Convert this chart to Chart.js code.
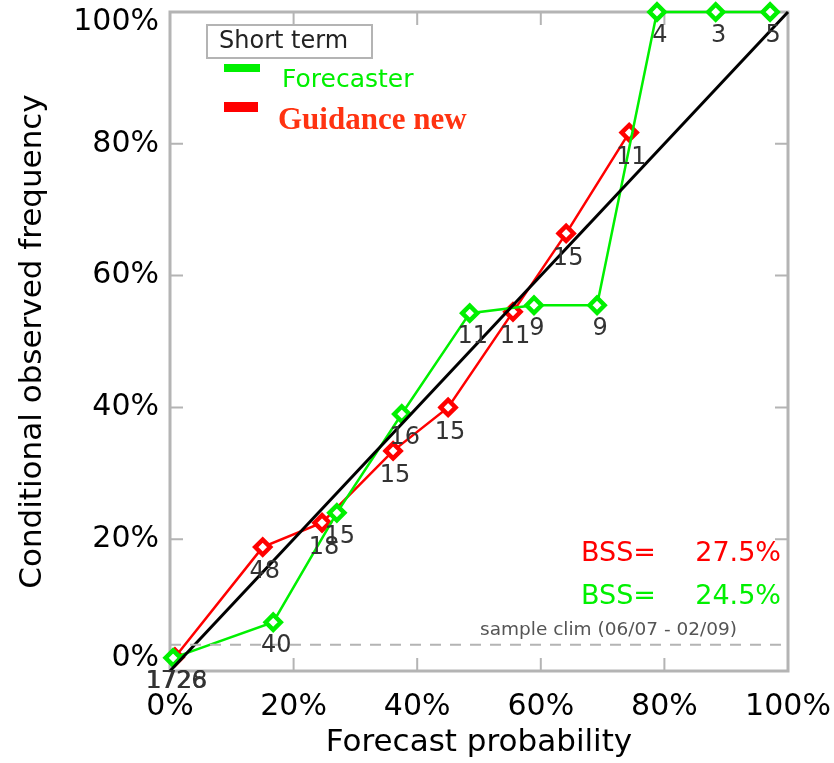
<!DOCTYPE html>
<html>
<head>
<meta charset="utf-8">
<script src="https://cdn.jsdelivr.net/npm/chart.js@4.4.0/dist/chart.umd.min.js"></script>
<style>
  html, body { margin: 0; padding: 0; background: #fff; }
  #wrap { width: 834px; height: 763px; }
</style>
</head>
<body>
<div id="wrap"><canvas id="chart"></canvas></div>
<script>
// Reliability diagram, short term
const tickValues = [0, 20, 40, 60, 80, 100];

// Forecaster (green)
const fcstProb = [0.5, 16.7, 27.0, 37.5, 48.5, 58.9, 69.1, 78.8, 88.3, 97.1];
const fcstObs = [2.0, 7.4, 24.0, 39.0, 54.3, 55.5, 55.5, 100, 100, 100];
const fcstCount = [1726, 40, 15, 16, 11, 9, 9, 4, 3, 5];

// Guidance new (red)
const guidProb = [0.8, 15.0, 24.6, 36.1, 45.0, 55.5, 64.1, 74.3];
const guidObs = [2.1, 18.8, 22.5, 33.4, 40.0, 54.5, 66.4, 81.7];
const guidCount = [1728, 48, 18, 15, 15, 11, 15, 11];

const sampleClim = 4;
const bssGuidance = "27.5%";
const bssForecaster = "24.5%";

const GREEN = '#00f000';
const RED = '#ff0000';
const FRAME = '#b4b4b4';
const FONT = '"DejaVu Sans", sans-serif';

function toPoints(xs, ys) {
  return xs.map((x, i) => ({ x: x, y: ys[i] }));
}

// gray box round the plot with short ticks pointing inwards
const framePlugin = {
  id: 'frame',
  beforeDatasetsDraw(chart) {
    const { ctx, chartArea: a, scales } = chart;
    ctx.save();
    ctx.strokeStyle = FRAME;
    ctx.lineWidth = 3;
    ctx.strokeRect(a.left, a.top, a.right - a.left, a.bottom - a.top);
    ctx.lineWidth = 2;
    tickValues.slice(1, -1).forEach(v => {
      const px = scales.x.getPixelForValue(v);
      const py = scales.y.getPixelForValue(v);
      ctx.beginPath();
      ctx.moveTo(px, a.bottom); ctx.lineTo(px, a.bottom - 13);
      ctx.moveTo(px, a.top); ctx.lineTo(px, a.top + 13);
      ctx.moveTo(a.left, py); ctx.lineTo(a.left + 13, py);
      ctx.moveTo(a.right, py); ctx.lineTo(a.right - 13, py);
      ctx.stroke();
    });
    ctx.restore();
  }
};

// counts under each point, legend box and skill scores
const notesPlugin = {
  id: 'notes',
  afterDraw(chart) {
    const { ctx, chartArea: a, scales } = chart;
    const x = scales.x, y = scales.y;
    ctx.save();

    ctx.fillStyle = '#333';
    ctx.font = '24px ' + FONT;
    ctx.textAlign = 'center';
    ctx.textBaseline = 'middle';
    fcstProb.forEach((p, i) => {
      ctx.fillText(String(fcstCount[i]), x.getPixelForValue(p) + 3, y.getPixelForValue(fcstObs[i]) + 24);
    });
    guidProb.forEach((p, i) => {
      ctx.fillText(String(guidCount[i]), x.getPixelForValue(p) + 2, y.getPixelForValue(guidObs[i]) + 25);
    });

    // end labels of the y axis sit inside the range
    ctx.fillStyle = '#000';
    ctx.font = '30px ' + FONT;
    ctx.textAlign = 'right';
    ctx.fillText('100%', a.left - 11, y.getPixelForValue(100) + 10);
    ctx.fillText('0%', a.left - 11, y.getPixelForValue(0) - 13);

    // legend
    ctx.strokeStyle = FRAME;
    ctx.lineWidth = 2;
    ctx.strokeRect(207, 25, 165, 33);
    ctx.fillStyle = '#222';
    ctx.font = '24px ' + FONT;
    ctx.textAlign = 'left';
    ctx.fillText('Short term', 219, 42);

    ctx.fillStyle = GREEN;
    ctx.fillRect(224, 64, 36, 8);
    ctx.font = '25px ' + FONT;
    ctx.fillText('Forecaster', 282, 80);

    ctx.fillStyle = RED;
    ctx.fillRect(224, 102, 34, 10);
    ctx.fillStyle = '#ff3311';
    ctx.font = 'bold 31px "Liberation Serif", serif';
    ctx.fillText('Guidance new', 278, 121);

    // skill scores
    ctx.font = '27px ' + FONT;
    ctx.fillStyle = RED;
    ctx.fillText('BSS=', 581, 554);
    ctx.textAlign = 'right';
    ctx.fillText(bssGuidance, 781, 554);
    ctx.fillStyle = GREEN;
    ctx.textAlign = 'left';
    ctx.fillText('BSS=', 581, 597);
    ctx.textAlign = 'right';
    ctx.fillText(bssForecaster, 781, 597);

    ctx.fillStyle = '#555';
    ctx.font = '18.5px ' + FONT;
    ctx.textAlign = 'left';
    ctx.fillText('sample clim (06/07 - 02/09)', 480, y.getPixelForValue(sampleClim) - 14);

    ctx.restore();
  }
};

const pointStyle = {
  pointStyle: 'rectRot',
  pointRadius: 7.5,
  pointBorderWidth: 4.5,
  pointBackgroundColor: '#fff',
  borderWidth: 2.5,
  showLine: true,
  clip: false
};

new Chart(document.getElementById('chart'), {
  type: 'scatter',
  data: {
    datasets: [
      {
        label: 'clim',
        data: [{ x: 0, y: sampleClim }, { x: 100, y: sampleClim }],
        borderColor: FRAME,
        borderWidth: 2,
        borderDash: [11, 9],
        pointRadius: 0,
        showLine: true
      },
      {
        label: 'perfect',
        data: [{ x: 0, y: 0 }, { x: 100, y: 100 }],
        borderColor: '#000',
        borderWidth: 3,
        pointRadius: 0,
        showLine: true,
        clip: false
      },
      Object.assign({
        label: 'Forecaster',
        data: toPoints(fcstProb, fcstObs),
        borderColor: GREEN,
        pointBorderColor: GREEN
      }, pointStyle),
      Object.assign({
        label: 'Guidance new',
        data: toPoints(guidProb, guidObs),
        borderColor: RED,
        pointBorderColor: RED
      }, pointStyle)
    ]
  },
  options: {
    responsive: true,
    maintainAspectRatio: false,
    animation: false,
    layout: { padding: { top: 10, right: 46, left: 0, bottom: 0 } },
    plugins: {
      legend: { display: false },
      tooltip: { enabled: false }
    },
    scales: {
      x: {
        type: 'linear',
        min: 0,
        max: 100,
        afterFit: s => { s.height = 92; s.paddingLeft = 0; s.paddingRight = 0; },
        afterBuildTicks: s => { s.ticks = tickValues.map(v => ({ value: v })); },
        ticks: {
          callback: v => v + '%',
          color: '#000',
          padding: 18,
          maxRotation: 0,
          font: { family: FONT, size: 30 }
        },
        grid: { display: false, drawTicks: false },
        border: { display: false },
        title: {
          display: true,
          text: 'Forecast probability',
          color: '#000',
          padding: { top: 0, bottom: 1 },
          font: { family: FONT, size: 31 }
        }
      },
      y: {
        type: 'linear',
        min: 0,
        max: 100,
        afterFit: s => { s.width = 170; s.paddingTop = 0; s.paddingBottom = 0; },
        afterBuildTicks: s => { s.ticks = tickValues.map(v => ({ value: v })); },
        ticks: {
          callback: v => (v === 0 || v === 100) ? '' : v + '%',
          color: '#000',
          padding: 11,
          font: { family: FONT, size: 30 }
        },
        grid: { display: false, drawTicks: false },
        border: { display: false },
        title: {
          display: true,
          text: 'Conditional observed frequency',
          color: '#000',
          padding: { top: 14, bottom: 0 },
          font: { family: FONT, size: 31 }
        }
      }
    }
  },
  plugins: [framePlugin, notesPlugin]
});
</script>
</body>
</html>
